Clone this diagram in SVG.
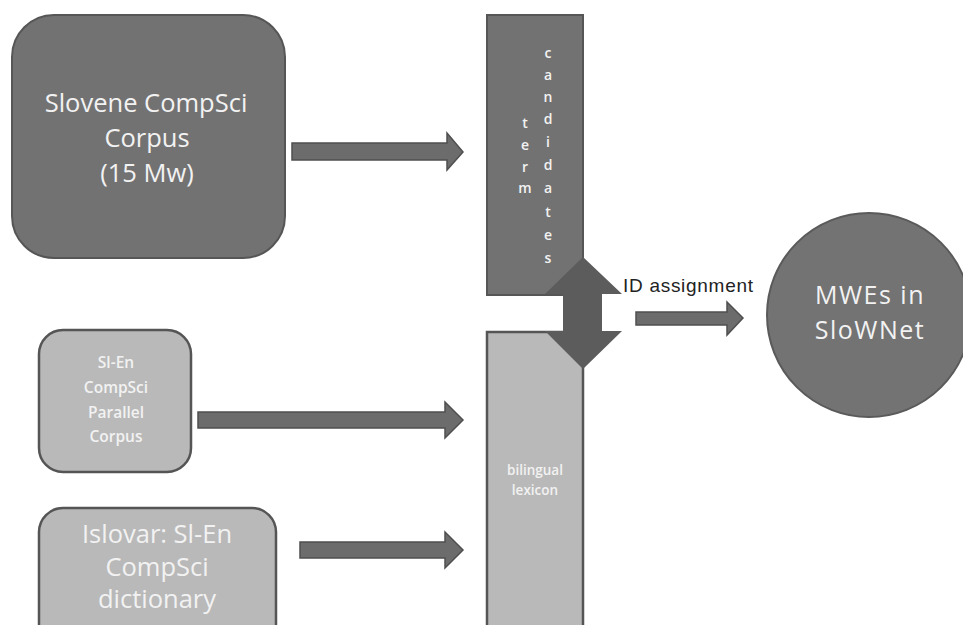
<svg xmlns="http://www.w3.org/2000/svg" width="963" height="625" viewBox="0 0 963 625">
<style>
.dark{fill:#727272;stroke:#565656;stroke-width:2}
.light{fill:#b9b9b9;stroke:#555555;stroke-width:2.5}
.arr{fill:#6c6c6c;stroke:#4f4f4f;stroke-width:1.5}
.t{font-family:"Open Sans","DejaVu Sans",sans-serif;fill:#f2f2f2;text-anchor:middle}
.tb{font-family:"Open Sans","DejaVu Sans",sans-serif;font-weight:600;fill:#f2f2f2;text-anchor:middle}
</style>
<rect width="963" height="625" fill="#ffffff"/>
<g id="slovene-corpus">
<rect class="dark" x="12" y="15" width="273" height="243" rx="42"/>
<text class="t" font-size="25.5" x="146" y="112">Slovene CompSci</text>
<text class="t" font-size="25.5" x="147" y="147">Corpus</text>
<text class="t" font-size="25.5" x="147" y="182">(15 Mw)</text>
</g>
<g id="parallel-corpus">
<rect class="light" x="39" y="330" width="152" height="142" rx="24"/>
<text class="tb" font-size="15.5" x="116" y="368">Sl-En</text>
<text class="tb" font-size="15.5" x="116" y="393">CompSci</text>
<text class="tb" font-size="15.5" x="116" y="418">Parallel</text>
<text class="tb" font-size="15.5" x="116" y="442">Corpus</text>
</g>
<g id="islovar">
<rect class="light" x="39" y="508" width="237" height="140" rx="24"/>
<text class="t" font-size="25.5" x="157" y="543">Islovar: Sl-En</text>
<text class="t" font-size="25.5" x="157" y="576">CompSci</text>
<text class="t" font-size="25.5" x="157" y="608">dictionary</text>
</g>
<g id="term-candidates">
<rect class="dark" x="487" y="15" width="96" height="280"/>
<g class="tb" font-size="14">
<text x="525" y="128">t</text>
<text x="525" y="150">e</text>
<text x="525" y="172">r</text>
<text x="525" y="193">m</text>
<text x="548" y="58">c</text>
<text x="548" y="80">a</text>
<text x="548" y="102">n</text>
<text x="548" y="124">d</text>
<text x="548" y="147">i</text>
<text x="548" y="170">d</text>
<text x="548" y="193">a</text>
<text x="548" y="217">t</text>
<text x="548" y="240">e</text>
<text x="548" y="263">s</text>
</g>
</g>
<g id="bilingual-lexicon">
<rect class="light" x="487" y="332" width="96" height="320"/>
<text class="tb" font-size="13.5" x="535" y="475">bilingual</text>
<text class="tb" font-size="13.5" x="535" y="495">lexicon</text>
</g>
<g id="mwes-slownet">
<circle cx="869" cy="315" r="102" fill="#737373" stroke="#5a5a5a" stroke-width="2"/>
<text class="t" font-size="25" letter-spacing="1.5" x="870" y="304">MWEs in</text>
<text class="t" font-size="25" letter-spacing="1.5" x="870" y="339">SloWNet</text>
</g>
<g id="connectors">
<polygon class="arr" points="292,143 447,143 447,133 463,152 447,170 447,160 292,160"/>
<polygon class="arr" points="198,412 445,412 445,402 463,420 445,438 445,428 198,428"/>
<polygon class="arr" points="300,542 445,542 445,532 463,550 445,568 445,558 300,558"/>
<polygon fill="#5c5c5c" points="583,257 622,294 602,294 602,331 622,331 583,369 545,331 563,331 563,294 545,294"/>
<polygon class="arr" points="636,312 727,312 727,302 743,318 727,335 727,325 636,325"/>
<text font-family="'Liberation Sans',Arial,sans-serif" font-size="19" fill="#222222" x="623" y="292" textLength="130">ID assignment</text>
</g>
</svg>
